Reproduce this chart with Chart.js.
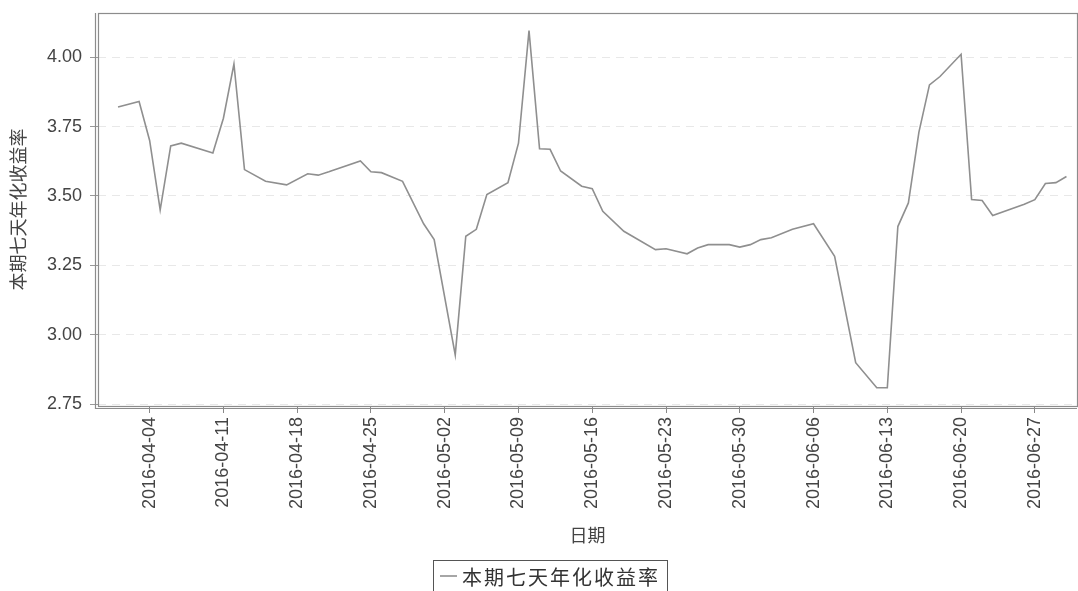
<!DOCTYPE html>
<html>
<head>
<meta charset="utf-8">
<script src="https://cdn.jsdelivr.net/npm/chart.js@4.4.1/dist/chart.umd.min.js"></script>
<style>
  html, body { margin: 0; background: #fff; }
  #wrap { width: 1078px; height: 591px; }
</style>
</head>
<body>
<div id="wrap"><canvas id="myChart"></canvas></div>
<script>
// 本期七天年化收益率 (turning points of the line)
const dates = [
    '2016-04-01', '2016-04-03', '2016-04-04', '2016-04-05', '2016-04-06', '2016-04-07',
    '2016-04-10', '2016-04-11', '2016-04-12', '2016-04-13', '2016-04-15', '2016-04-17',
    '2016-04-19', '2016-04-20', '2016-04-21', '2016-04-24', '2016-04-25', '2016-04-26',
    '2016-04-28', '2016-04-30', '2016-05-01', '2016-05-03', '2016-05-04', '2016-05-05',
    '2016-05-06', '2016-05-08', '2016-05-09', '2016-05-10', '2016-05-11', '2016-05-12',
    '2016-05-13', '2016-05-15', '2016-05-16', '2016-05-17', '2016-05-19', '2016-05-22',
    '2016-05-23', '2016-05-25', '2016-05-26', '2016-05-27', '2016-05-29', '2016-05-30',
    '2016-05-31', '2016-06-01', '2016-06-02', '2016-06-04', '2016-06-06', '2016-06-08',
    '2016-06-10', '2016-06-12', '2016-06-13', '2016-06-14', '2016-06-15', '2016-06-16',
    '2016-06-17', '2016-06-18', '2016-06-20', '2016-06-21', '2016-06-22', '2016-06-23',
    '2016-06-26', '2016-06-27', '2016-06-28', '2016-06-29', '2016-06-30',
];
const yields = [
    3.82, 3.84, 3.70, 3.45, 3.68, 3.69,
    3.655, 3.78, 3.975, 3.595, 3.553, 3.54,
    3.58, 3.575, 3.587, 3.626, 3.587, 3.584,
    3.553, 3.40, 3.343, 2.928, 3.355, 3.38,
    3.505, 3.548, 3.69, 4.095, 3.67, 3.668,
    3.59, 3.535, 3.526, 3.445, 3.373, 3.307,
    3.31, 3.292, 3.313, 3.325, 3.325, 3.316,
    3.325, 3.343, 3.35, 3.38, 3.40, 3.283,
    2.90, 2.81, 2.81, 3.39, 3.475, 3.73,
    3.90, 3.93, 4.01, 3.487, 3.484, 3.43,
    3.47, 3.487, 3.545, 3.548, 3.57,
];
const tickDates = [
    '2016-04-04', '2016-04-11', '2016-04-18', '2016-04-25', '2016-05-02', '2016-05-09',
    '2016-05-16', '2016-05-23', '2016-05-30', '2016-06-06', '2016-06-13', '2016-06-20',
    '2016-06-27',
];
const yTicks = [2.75, 3.00, 3.25, 3.50, 3.75, 4.00];
const seriesName = '本期七天年化收益率';
const xTitle = '日期';

const dayNum = s => Date.UTC(+s.slice(0, 4), +s.slice(5, 7) - 1, +s.slice(8, 10)) / 86400000;
const day0 = dayNum(tickDates[0]);

// double frame round the plot and the boxed legend under the axis title
const framePlugin = {
    id: 'frame',
    afterDraw(chart) {
        const ctx = chart.ctx;
        const a = chart.chartArea;
        ctx.save();
        ctx.strokeStyle = '#8c8c8c';
        ctx.lineWidth = 1.2;
        ctx.strokeRect(a.left + 0.5, a.top + 0.5, a.right - a.left, a.bottom - a.top);
        ctx.beginPath();
        ctx.moveTo(a.left - 2.5, a.top);
        ctx.lineTo(a.left - 2.5, a.bottom + 2.5);
        ctx.lineTo(a.right, a.bottom + 2.5);
        ctx.stroke();

        ctx.strokeStyle = '#555';
        ctx.lineWidth = 1;
        ctx.strokeRect(433.5, 560.5, 234, 32);
        ctx.strokeStyle = '#888';
        ctx.lineWidth = 1.5;
        ctx.beginPath();
        ctx.moveTo(440, 576);
        ctx.lineTo(457, 576);
        ctx.stroke();
        ctx.fillStyle = '#333';
        ctx.font = '20px "Noto Sans CJK SC"';
        ctx.letterSpacing = '2px';
        ctx.textBaseline = 'middle';
        ctx.fillText(seriesName, 462, 577);
        ctx.restore();
    },
};

const config = {
    type: 'line',
    data: {
        datasets: [{
            label: seriesName,
            data: dates.map((d, i) => ({ x: dayNum(d), y: yields[i] })),
            borderColor: '#8f8f8f',
            borderWidth: 1.6,
            pointRadius: 0,
            tension: 0,
            fill: false,
        }],
    },
    options: {
        responsive: true,
        maintainAspectRatio: false,
        animation: false,
        layout: { padding: { top: 13, right: 1, left: 0, bottom: 0 } },
        plugins: {
            legend: { display: false },
            tooltip: { enabled: false },
        },
        scales: {
            x: {
                type: 'linear',
                min: day0 - 4.9,
                max: day0 + 88,
                afterBuildTicks: scale => {
                    scale.ticks = tickDates.map(d => ({ value: dayNum(d) }));
                },
                afterFit: scale => { scale.height = 185; },
                grid: { drawOnChartArea: false, tickLength: 7, color: '#888' },
                border: { display: false },
                ticks: {
                    autoSkip: false,
                    minRotation: 90,
                    maxRotation: 90,
                    padding: 4,
                    color: '#444',
                    font: { family: '"Liberation Sans", Arial', size: 18 },
                    callback: (v, i) => tickDates[i],
                },
                title: {
                    display: true,
                    text: xTitle,
                    color: '#444',
                    font: { family: '"Noto Sans CJK SC"', size: 18 },
                    padding: { top: 0, bottom: 45 },
                },
            },
            y: {
                min: 2.7442,
                max: 4.1586,
                afterBuildTicks: scale => {
                    scale.ticks = yTicks.map(v => ({ value: v }));
                },
                afterFit: scale => {
                    scale.width = 98;
                    scale.paddingTop = 0;
                    scale.paddingBottom = 0;
                },
                grid: {
                    color: 'rgba(0,0,0,0.09)',
                    tickColor: '#999',
                    tickLength: 8,
                },
                border: { display: false, dash: [8, 6] },
                ticks: {
                    padding: 8,
                    color: '#444',
                    font: { family: '"Liberation Sans", Arial', size: 18 },
                    callback: v => v.toFixed(2),
                },
                title: {
                    display: true,
                    text: seriesName,
                    color: '#444',
                    font: { family: '"Noto Sans CJK SC"', size: 18 },
                    padding: { top: 7, bottom: 0 },
                },
            },
        },
    },
    plugins: [framePlugin],
};

const ctx = document.getElementById('myChart').getContext('2d');
const myChart = new Chart(ctx, config);
</script>
</body>
</html>
